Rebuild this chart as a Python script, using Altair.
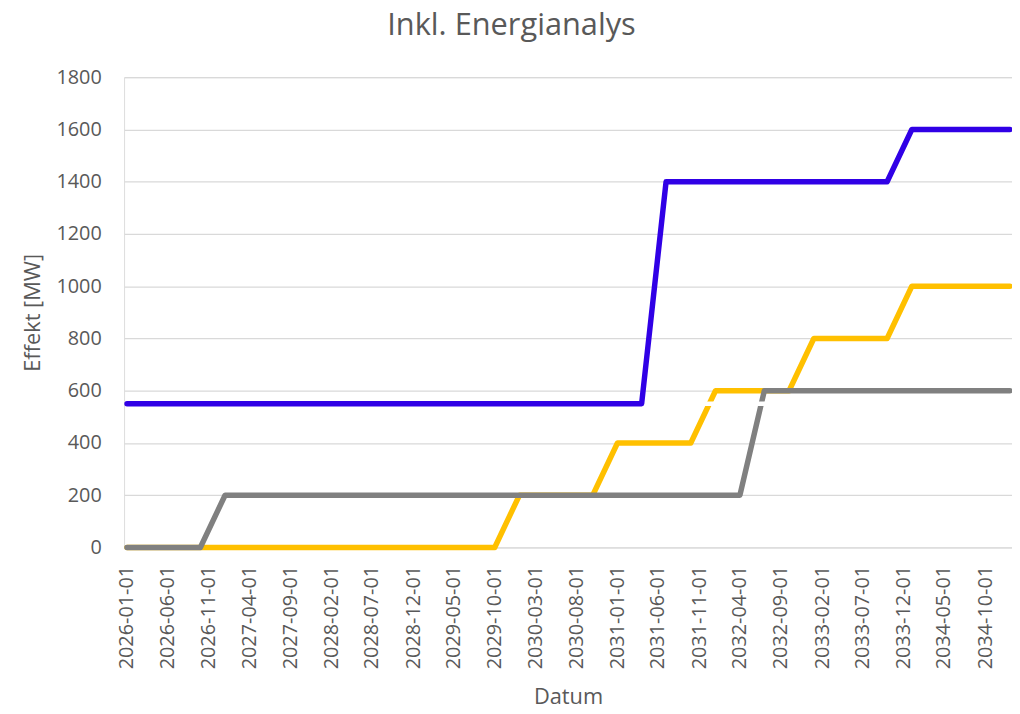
import altair as alt
import pandas as pd

# quarterly dates
dates = [
    "2026-01-01", "2026-04-01", "2026-07-01", "2026-10-01",
    "2027-01-01", "2027-04-01", "2027-07-01", "2027-10-01",
    "2028-01-01", "2028-04-01", "2028-07-01", "2028-10-01",
    "2029-01-01", "2029-04-01", "2029-07-01", "2029-10-01",
    "2030-01-01", "2030-04-01", "2030-07-01", "2030-10-01",
    "2031-01-01", "2031-04-01", "2031-07-01", "2031-10-01",
    "2032-01-01", "2032-04-01", "2032-07-01", "2032-10-01",
    "2033-01-01", "2033-04-01", "2033-07-01", "2033-10-01",
    "2034-01-01", "2034-04-01", "2034-07-01", "2034-10-01",
    "2035-01-01",
]

blue_values = [
    550, 550, 550, 550, 550, 550, 550, 550,
    550, 550, 550, 550, 550, 550, 550, 550,
    550, 550, 550, 550, 550, 550, 1400, 1400,
    1400, 1400, 1400, 1400, 1400, 1400, 1400, 1400,
    1600, 1600, 1600, 1600, 1600,
]
yellow_values = [
    0, 0, 0, 0, 0, 0, 0, 0,
    0, 0, 0, 0, 0, 0, 0, 0,
    200, 200, 200, 200, 400, 400, 400, 400,
    600, 600, 600, 600, 800, 800, 800, 800,
    1000, 1000, 1000, 1000, 1000,
]
gray_values = [
    0, 0, 0, 0, 200, 200, 200, 200,
    200, 200, 200, 200, 200, 200, 200, 200,
    200, 200, 200, 200, 200, 200, 200, 200,
    200, 200, 600, 600, 600, 600, 600, 600,
    600, 600, 600, 600, 600,
]
white_values = [
    None, None, None, None, None, None, None, None,
    None, None, None, None, None, None, None, None,
    None, None, None, None, None, 550, 550, 550,
    550, 550, 550, 550, 550, 550, 550, 550,
    550, 550, 550, 550, 550,
]

tick_labels = [
    "2026-01-01", "2026-06-01", "2026-11-01", "2027-04-01", "2027-09-01",
    "2028-02-01", "2028-07-01", "2028-12-01", "2029-05-01", "2029-10-01",
    "2030-03-01", "2030-08-01", "2031-01-01", "2031-06-01", "2031-11-01",
    "2032-04-01", "2032-09-01", "2033-02-01", "2033-07-01", "2033-12-01",
    "2034-05-01", "2034-10-01",
]
y_ticks = [0, 200, 400, 600, 800, 1000, 1200, 1400, 1600, 1800]

# drawing order: first listed is drawn at the bottom
series = [
    ("yellow", yellow_values, "#FFC000"),
    ("gray", gray_values, "#808080"),
    ("white", white_values, "#FFFFFF"),
    ("blue", blue_values, "#3000E6"),
]

rows = []
for name, vals, _ in series:
    for d, v in zip(dates, vals):
        if v is not None:
            rows.append({"series": name, "date": d, "value": v})
df = pd.DataFrame(rows)


def dt(s):
    y, m, d = (int(p) for p in s.split("-"))
    return alt.DateTime(year=y, month=m, date=d, utc=True)


FONT = "Open Sans"
TXT = "#595959"

x_enc = alt.X(
    "date:T",
    scale=alt.Scale(type="utc", domain=[dt("2025-12-21"), dt("2035-01-09")]),
    axis=alt.Axis(
        title="Datum",
        values=[dt(s) for s in tick_labels],
        format="%Y-%m-%d",
        labelAngle=270,
        labelAlign="right",
        labelBaseline="middle",
        labelPadding=18,
        labelOverlap=False,
        labelFlush=False,
        labelBound=False,
        ticks=False,
        domain=False,
        grid=False,
        labelFont=FONT,
        labelFontSize=20,
        labelColor=TXT,
        titleFont=FONT,
        titleFontSize=22,
        titleFontWeight="normal",
        titleColor=TXT,
        titlePadding=18,
    ),
)
y_enc = alt.Y(
    "value:Q",
    scale=alt.Scale(domain=[0, 1800], nice=False),
    axis=alt.Axis(
        title="Effekt [MW]",
        values=y_ticks,
        format="d",
        ticks=False,
        domain=False,
        grid=True,
        gridColor="#D9D9D9",
        gridWidth=1.3,
        labelPadding=23,
        labelFont=FONT,
        labelFontSize=20,
        labelColor=TXT,
        titleFont=FONT,
        titleFontSize=22,
        titleFontWeight="normal",
        titleColor=TXT,
        titlePadding=11,
    ),
)

base = alt.Chart(df).encode(x=x_enc, y=y_enc)

layers = []
for name, _, color in series:
    layers.append(
        base.transform_filter(alt.datum.series == name).mark_line(
            color=color,
            strokeWidth=5.5 if name != "white" else 4.5,
            strokeCap="round" if name != "white" else "butt",
            strokeJoin="round",
        )
    )

chart = (
    alt.layer(*layers)
    .properties(
        width=895,
        height=474,
        autosize=alt.AutoSizeParams(type="none"),
        padding={"left": 117, "top": 67, "right": 0, "bottom": 157},
        title=alt.Title(
            "Inkl. Energianalys",
            font=FONT,
            fontSize=31,
            fontWeight="normal",
            color=TXT,
            anchor="middle",
            dx=-57,
            offset=26,
        ),
    )
    .configure_view(strokeWidth=0)
    .configure(background="white")
)

chart.save("out.html", embed_options={"renderer": "svg", "actions": False})
